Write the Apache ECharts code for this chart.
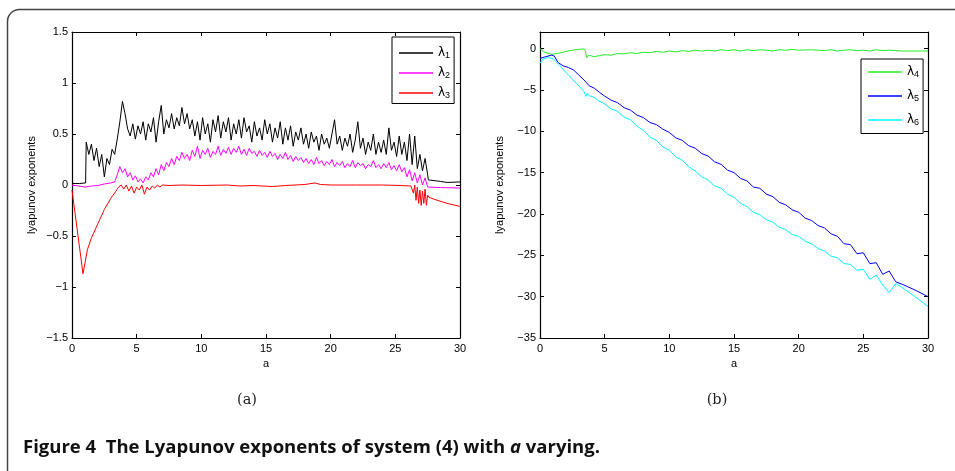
<!DOCTYPE html>
<html>
<head>
<meta charset="utf-8">
<title>Lyapunov exponents</title>
<script src="https://cdn.jsdelivr.net/npm/echarts@6/dist/echarts.min.js"></script>
<style>
  html, body { margin: 0; padding: 0; background: #fff; }
  #chart { width: 955px; height: 471px; }
</style>
</head>
<body>
<div id="chart"></div>
<script>
// ---- data (a = parameter, values = exponents) ----

// panel (a): lambda 1
const lam1Head = [[0, 0.015], [0.6, 0.015], [1.05, 0.02]];
const lam1Noisy = [ // a = 1.1 .. 27.5, step 0.2
  0.42, 0.30, 0.40, 0.24, 0.36, 0.18, 0.30, 0.08, 0.26, 0.20, 0.35, 0.30, 0.45, 0.62, 0.82, 0.70,
  0.55, 0.48, 0.60, 0.45, 0.58, 0.50, 0.62, 0.44, 0.60, 0.52, 0.66, 0.42, 0.62, 0.78, 0.50, 0.64,
  0.56, 0.70, 0.55, 0.66, 0.58, 0.76, 0.60, 0.70, 0.55, 0.64, 0.48, 0.62, 0.44, 0.66, 0.50, 0.60,
  0.42, 0.64, 0.52, 0.68, 0.46, 0.62, 0.52, 0.66, 0.44, 0.60, 0.50, 0.64, 0.46, 0.66, 0.52, 0.58,
  0.42, 0.62, 0.48, 0.56, 0.44, 0.64, 0.50, 0.60, 0.42, 0.56, 0.46, 0.62, 0.40, 0.56, 0.44, 0.58,
  0.38, 0.52, 0.44, 0.56, 0.40, 0.50, 0.36, 0.52, 0.42, 0.48, 0.34, 0.50, 0.40, 0.46, 0.36, 0.50,
  0.64, 0.40, 0.48, 0.34, 0.46, 0.38, 0.50, 0.32, 0.44, 0.62, 0.36, 0.46, 0.30, 0.42, 0.34, 0.50,
  0.30, 0.42, 0.32, 0.44, 0.30, 0.56, 0.34, 0.42, 0.28, 0.48, 0.30, 0.42, 0.24, 0.50, 0.20, 0.48,
  0.16, 0.30, 0.14, 0.26, 0.10
];
const lam1Tail = [[27.55, 0.05], [28.5, 0.035], [29, 0.025], [30, 0.03]];

// panel (a): lambda 2
const lam2Head = [[0, 0], [0.5, -0.01], [1.0, -0.02], [1.5, -0.01], [2.0, -0.005], [2.5, 0.01], [3.0, 0.02], [3.3, 0.03]];
const lam2Noisy = [ // a = 3.5 .. 27.5, step 0.2
  0.10, 0.18, 0.12, 0.16, 0.08, 0.12, 0.05, 0.09, 0.03, 0.06, 0.02, 0.08, 0.05, 0.12, 0.08, 0.16,
  0.10, 0.20, 0.14, 0.22, 0.18, 0.26, 0.20, 0.28, 0.24, 0.32, 0.26, 0.30, 0.24, 0.34, 0.28, 0.38,
  0.26, 0.34, 0.30, 0.36, 0.27, 0.33, 0.30, 0.38, 0.29, 0.35, 0.31, 0.37, 0.30, 0.36, 0.32, 0.38,
  0.30, 0.35, 0.29, 0.36, 0.31, 0.33, 0.28, 0.34, 0.29, 0.32, 0.27, 0.33, 0.28, 0.31, 0.25, 0.30,
  0.26, 0.32, 0.25, 0.29, 0.23, 0.28, 0.24, 0.27, 0.22, 0.26, 0.21, 0.25, 0.20, 0.27, 0.21, 0.24,
  0.19, 0.23, 0.20, 0.25, 0.18, 0.22, 0.19, 0.23, 0.17, 0.21, 0.18, 0.24, 0.17, 0.22, 0.19, 0.21,
  0.16, 0.20, 0.18, 0.24, 0.17, 0.20, 0.16, 0.21, 0.17, 0.22, 0.15, 0.19, 0.14, 0.20, 0.13, 0.17,
  0.08, 0.15, 0.04, 0.12, 0.02, 0.10, 0.00, 0.07, -0.02
];
const lam2Tail = [[27.6, -0.02], [28.5, -0.025], [30, -0.03]];

// panel (a): lambda 3
const lam3Head = [[0, -0.05], [0.85, -0.87], [1.2, -0.63], [1.5, -0.52], [2.0, -0.38], [2.5, -0.24], [3.0, -0.13], [3.4, -0.06], [3.6, -0.02]];
const lam3Noisy = [ // a = 3.8 .. 7.0, step 0.2
  0.0, -0.04, 0.0, -0.06, -0.01, -0.08, -0.02, -0.05, 0.0, -0.09, -0.02, -0.05, -0.01, -0.03, 0.0, -0.02, 0.0
];
const lam3Mid = [[7.5, -0.005], [8.5, 0], [10, -0.005], [12, 0], [13, -0.01], [14, -0.005], [15.5, -0.015], [16.5, -0.005],
  [18, 0.005], [18.8, 0.02], [19.2, 0.005], [20, 0], [22, 0], [24, 0], [25.5, -0.005], [26.2, -0.01],
  [26.4, -0.08], [26.5, 0], [26.6, -0.15], [26.7, -0.02], [26.8, -0.18], [26.9, -0.05], [27.0, -0.2], [27.1, -0.06],
  [27.2, -0.18], [27.3, -0.04], [27.4, -0.2], [27.5, -0.1]];
const lam3Tail = [[27.6, -0.12], [28, -0.14], [29, -0.18], [30, -0.21]];

// panel (b): lambda 4
const lam4 = [[0, 0], [0.3, -0.4], [0.9, -0.7], [1.5, -0.55], [2.0, -0.35], [2.5, -0.2], [3.0, -0.1], [3.4, -0.05], [3.5, -0.3],
  [3.6, -1.1], [3.8, -0.8], [4.2, -1.0], [4.6, -0.85], [5, -0.75], [5.5, -0.8], [6, -0.6], [6.5, -0.65], [7, -0.5], [7.5, -0.6],
  [8, -0.45], [8.5, -0.5], [9, -0.35], [9.5, -0.45], [10, -0.3], [10.5, -0.4], [11, -0.25], [11.5, -0.35], [12, -0.2],
  [12.5, -0.3], [13, -0.2], [13.5, -0.3], [14, -0.15], [14.5, -0.25], [15, -0.15], [15.5, -0.3], [16, -0.15], [16.5, -0.25],
  [17, -0.15], [17.5, -0.2], [18, -0.3], [18.5, -0.15], [19, -0.2], [19.5, -0.1], [20, -0.2], [21, -0.15], [22, -0.25],
  [22.5, -0.15], [23, -0.3], [23.5, -0.2], [24, -0.15], [24.5, -0.25], [25, -0.2], [25.5, -0.3], [26, -0.15], [26.5, -0.25],
  [27, -0.2], [27.5, -0.25], [28, -0.3], [29, -0.3], [30, -0.3]];

// panel (b): lambda 5
const lam5Head = [[0, -1.2], [0.4, -1.0], [0.9, -0.8], [1.1, -0.9], [1.4, -1.7], [1.8, -2.1], [2.2, -2.3], [2.6, -2.6],
  [3.0, -3.2], [3.4, -3.8], [3.8, -4.5], [4.2, -4.8], [4.6, -5.3]];
const lam5Noisy = [ // a = 5.0 .. 27.5, step 0.5
  -5.75, -6.25, -6.55, -7.15, -7.45, -8.05, -8.35, -8.95, -9.2, -9.75, -10.15, -10.8, -11.1, -11.75, -12.05, -12.7,
  -13.0, -13.7, -14.0, -14.7, -15.0, -15.7, -16.0, -16.75, -16.9, -17.6, -17.9, -18.6, -18.9, -19.5, -19.8, -20.5,
  -20.8, -21.4, -21.7, -22.4, -22.7, -23.6, -23.7, -24.8, -24.7, -26.0, -25.9, -27.3, -26.9, -28.2
];
const lam5Tail = [[28, -28.5], [29, -29.2], [30, -30.0]];

// panel (b): lambda 6
const lam6Head = [[0, -1.8], [0.2, -1.3], [0.6, -1.1], [1.0, -1.2], [1.5, -2.0], [2.0, -2.9], [2.5, -3.7], [3.0, -4.5],
  [3.4, -5.2], [3.55, -5.8], [3.65, -5.4], [3.8, -5.7], [4.2, -5.9]];
const lam6Noisy = [ // a = 4.5 .. 27.5, step 0.5
  -6.3, -6.7, -7.3, -7.6, -8.3, -8.6, -9.4, -9.9, -10.7, -11.1, -11.9, -12.3, -13.1, -13.5, -14.3, -14.8,
  -15.5, -15.9, -16.6, -16.9, -17.6, -18.0, -18.7, -19.1, -19.8, -20.1, -20.7, -21.0, -21.6, -21.9, -22.5, -22.7,
  -23.3, -23.6, -24.2, -24.5, -25.1, -25.3, -26.0, -26.1, -26.8, -26.7, -27.9, -27.4, -28.6, -29.5, -28.4
];
const lam6Tail = [[28, -28.9], [29, -30.0], [30, -31.2]];

const seriesNamesA = ['λ1', 'λ2', 'λ3'];
const seriesNamesB = ['λ4', 'λ5', 'λ6'];
const colorsA = ['#000000', '#ff00ff', '#ff0000'];
const colorsB = ['#22ee22', '#0000ff', '#00ffff'];

function seq(start, step, vals) {
  return vals.map((v, i) => [+(start + i * step).toFixed(2), v]);
}

const lam1 = [...lam1Head, ...seq(1.1, 0.2, lam1Noisy), ...lam1Tail];
const lam2 = [...lam2Head, ...seq(3.5, 0.2, lam2Noisy), ...lam2Tail];
const lam3 = [...lam3Head, ...seq(3.8, 0.2, lam3Noisy), ...lam3Mid, ...lam3Tail];
const lam5 = [...lam5Head, ...seq(5.0, 0.5, lam5Noisy), ...lam5Tail];
const lam6 = [...lam6Head, ...seq(4.5, 0.5, lam6Noisy), ...lam6Tail];

// ---- chart ----
const chart = echarts.init(document.getElementById('chart'), null, { renderer: 'canvas' });

const axisFont = { fontFamily: 'Liberation Sans, Arial, sans-serif', fontSize: 11, color: '#000' };
const minusFmt = v => String(v).replace('-', '−');
const frameLine = { onZero: false, lineStyle: { color: '#000', width: 1.2 } };
const inTick = { inside: true, length: 4, lineStyle: { color: '#000' } };

function bottomX(gridIndex) {
  return {
    type: 'value', gridIndex, min: 0, max: 30, interval: 5, position: 'bottom',
    name: 'a', nameLocation: 'middle', nameGap: 20, nameTextStyle: axisFont,
    axisLine: frameLine, axisTick: inTick,
    axisLabel: Object.assign({ margin: 5, formatter: minusFmt }, axisFont),
    splitLine: { show: false }
  };
}
function topX(gridIndex) {
  return {
    type: 'value', gridIndex, min: 0, max: 30, interval: 5, position: 'top',
    axisLine: frameLine, axisTick: inTick,
    axisLabel: { show: false }, splitLine: { show: false }
  };
}
function leftY(gridIndex, min, max, interval) {
  return {
    type: 'value', gridIndex, min, max, interval, position: 'left',
    name: 'lyapunov exponents', nameLocation: 'middle', nameGap: 35, nameRotate: 90, nameTextStyle: axisFont,
    axisLine: frameLine, axisTick: inTick,
    axisLabel: Object.assign({ margin: 4, formatter: minusFmt, showMaxLabel: max % interval === 0 }, axisFont),
    splitLine: { show: false }
  };
}
function rightY(gridIndex, min, max, interval) {
  return {
    type: 'value', gridIndex, min, max, interval, position: 'right',
    axisLine: frameLine, axisTick: inTick,
    axisLabel: { show: false }, splitLine: { show: false }
  };
}

function line(name, data, color, xi, yi) {
  return {
    name, type: 'line', data, xAxisIndex: xi, yAxisIndex: yi,
    showSymbol: false, symbol: 'none', animation: false,
    color, lineStyle: { color, width: 1 }, itemStyle: { color }
  };
}

// legend entries: greek letter with a real subscript index
const legendBase = {
  orient: 'vertical', icon: 'rect', itemWidth: 34, itemHeight: 1.5,
  backgroundColor: '#fff', borderColor: '#000', borderWidth: 1, borderRadius: 0,
  formatter: name => '{l|λ}{s|' + name.slice(1) + '}',
  textStyle: {
    color: '#000',
    rich: {
      l: { fontFamily: 'DejaVu Sans, sans-serif', fontSize: 12, lineHeight: 15, verticalAlign: 'middle', color: '#000' },
      s: { fontFamily: 'Liberation Sans, sans-serif', fontSize: 9, lineHeight: 15, verticalAlign: 'bottom', color: '#000' }
    }
  },
  selectedMode: false
};

const option = {
  backgroundColor: '#fff',
  animation: false,
  grid: [
    { left: 72, top: 32, width: 388, height: 306 },
    { left: 540, top: 32, width: 388, height: 306 }
  ],
  xAxis: [bottomX(0), topX(0), bottomX(1), topX(1)],
  yAxis: [leftY(0, -1.5, 1.5, 0.5), rightY(0, -1.5, 1.5, 0.5), leftY(1, -35, 2, 5), rightY(1, -35, 2, 5)],
  legend: [
    Object.assign({}, legendBase, { data: seriesNamesA, left: 392, top: 37, padding: [10, 4, 3, 7], itemGap: 6.5 }),
    Object.assign({}, legendBase, { data: seriesNamesB, left: 861, top: 59, padding: [7, 4, 6, 7], itemGap: 10.5 })
  ],
  series: [
    line(seriesNamesA[0], lam1, colorsA[0], 0, 0),
    line(seriesNamesA[1], lam2, colorsA[1], 0, 0),
    line(seriesNamesA[2], lam3, colorsA[2], 0, 0),
    line(seriesNamesB[0], lam4, colorsB[0], 2, 2),
    line(seriesNamesB[1], lam5, colorsB[1], 2, 2),
    line(seriesNamesB[2], lam6, colorsB[2], 2, 2)
  ],
  graphic: [
    {
      type: 'rect', z: -10, silent: true,
      shape: { x: 7.5, y: 9.5, width: 1000, height: 500, r: 12 },
      style: { fill: 'none', stroke: '#444', lineWidth: 1.5 }
    },
    {
      type: 'text', x: 247, y: 400, silent: true,
      style: { text: '(a)', font: '14.5px "DejaVu Serif", serif', fill: '#222', align: 'center', verticalAlign: 'middle' }
    },
    {
      type: 'text', x: 717, y: 400, silent: true,
      style: { text: '(b)', font: '14.5px "DejaVu Serif", serif', fill: '#222', align: 'center', verticalAlign: 'middle' }
    },
    {
      type: 'text', x: 23, y: 448, silent: true,
      style: {
        text: '{b|Figure 4  The Lyapunov exponents of system (4) with }{i|a}{b| varying.}',
        verticalAlign: 'middle',
        rich: {
          b: { fontFamily: 'Open Sans', fontWeight: 'bold', fontSize: 18.5, fill: '#111' },
          i: { fontFamily: 'Open Sans', fontWeight: 'bold', fontStyle: 'italic', fontSize: 18.5, fill: '#111' }
        }
      }
    }
  ]
};

chart.setOption(option);
</script>
</body>
</html>
